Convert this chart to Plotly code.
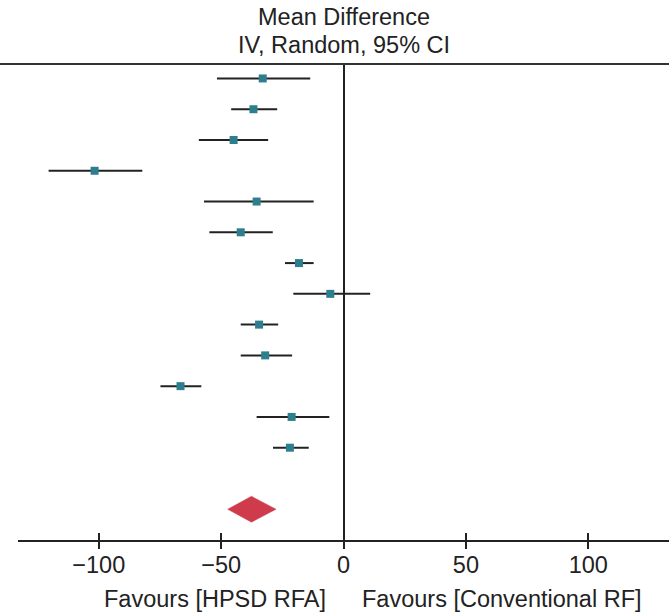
import plotly.graph_objects as go

# Study-level mean differences (IV, Random, 95% CI)
md = [-33.0, -36.8, -44.9, -101.7, -35.5, -42.0, -18.2, -5.4, -34.5, -32.0, -66.6, -21.2, -21.9]
ci_low = [-51.7, -45.9, -59.1, -120.5, -57.0, -54.8, -23.9, -20.5, -42.0, -42.0, -74.8, -35.5, -28.8]
ci_high = [-13.6, -27.1, -30.8, -82.2, -12.2, -28.9, -12.2, 10.9, -26.7, -21.0, -58.1, -5.8, -14.2]
rows = list(range(len(md)))

# Pooled estimate
pooled_md = -37.6
pooled_low = -47.3
pooled_high = -27.6
pooled_row = 14

tick_vals = [-100, -50, 0, 50, 100]
tick_text = ["\u2212100", "\u221250", "0", "50", "100"]
title_lines = ["Mean Difference", "IV, Random, 95% CI"]
left_label = "Favours [HPSD RFA]"
right_label = "Favours [Conventional RF]"

FONT = "Liberation Sans, Arial, sans-serif"
TXT = "#222222"
FS = 23.5

fig = go.Figure()

# CI whiskers
xs, ys = [], []
for lo, hi, r in zip(ci_low, ci_high, rows):
    xs += [lo, hi, None]
    ys += [r, r, None]
fig.add_trace(go.Scatter(x=xs, y=ys, mode="lines",
                         line=dict(color="#222222", width=2),
                         hoverinfo="skip", showlegend=False))

# Point estimates
fig.add_trace(go.Scatter(x=md, y=rows, mode="markers",
                         marker=dict(symbol="square", size=8, color="#2e7f8e",
                                     line=dict(width=0)),
                         showlegend=False))

# Pooled diamond
half_h = 0.42
fig.add_trace(go.Scatter(
    x=[pooled_low, pooled_md, pooled_high, pooled_md, pooled_low],
    y=[pooled_row, pooled_row - half_h, pooled_row, pooled_row + half_h, pooled_row],
    mode="lines", fill="toself", fillcolor="#cf3b4b",
    line=dict(color="#cf3b4b", width=0.5), showlegend=False))

# invisible trace for overlay axis (inside ticks)
fig.add_trace(go.Scatter(x=[0], y=[0], xaxis="x2", mode="markers",
                         marker=dict(opacity=0), hoverinfo="skip", showlegend=False))

xr = [-133, 133]
fig.update_layout(
    width=669, height=613,
    margin=dict(l=18, r=0, t=64, b=73),
    paper_bgcolor="white", plot_bgcolor="white",
    font=dict(family=FONT, size=FS, color=TXT),
    xaxis=dict(range=xr, tickvals=tick_vals, ticktext=tick_text,
               ticks="outside", ticklen=7, tickwidth=2, tickcolor="#222222",
               ticklabelstandoff=-4,
               showline=True, linecolor="#222222", linewidth=2,
               showgrid=False, zeroline=True, zerolinecolor="#222222", zerolinewidth=2,
               tickfont=dict(family=FONT, size=FS, color=TXT), fixedrange=True),
    xaxis2=dict(range=xr, tickvals=tick_vals, overlaying="x", side="bottom", anchor="y",
                ticks="inside", ticklen=7, tickwidth=2, tickcolor="#222222",
                showticklabels=False, showline=False, showgrid=False, zeroline=False),
    yaxis=dict(range=[15.0, -0.47], visible=False, showgrid=False, zeroline=False),
    showlegend=False,
)

# top rule spanning the full width
fig.add_shape(type="line", xref="paper", yref="paper", x0=-0.03, x1=1, y0=1, y1=1,
              line=dict(color="#333333", width=2))

# header (two lines)
for txt, ysh in zip(title_lines, [47.5, 19.5]):
    fig.add_annotation(xref="x", yref="paper", x=0, y=1, yanchor="middle", yshift=ysh,
                       text=txt, showarrow=False,
                       font=dict(family=FONT, size=FS, color=TXT))

# favours labels
fig.add_annotation(xref="x", yref="paper", x=0, y=0, xanchor="right", yanchor="middle",
                   xshift=-16, yshift=-59, text=left_label, showarrow=False,
                   font=dict(family=FONT, size=FS, color=TXT))
fig.add_annotation(xref="x", yref="paper", x=0, y=0, xanchor="left", yanchor="middle",
                   xshift=16, yshift=-59, text=right_label, showarrow=False,
                   font=dict(family=FONT, size=FS, color=TXT))

fig.write_html("out.html", config={"displayModeBar": False},
               post_script="document.body.style.margin='0';document.body.style.overflow='hidden';")
